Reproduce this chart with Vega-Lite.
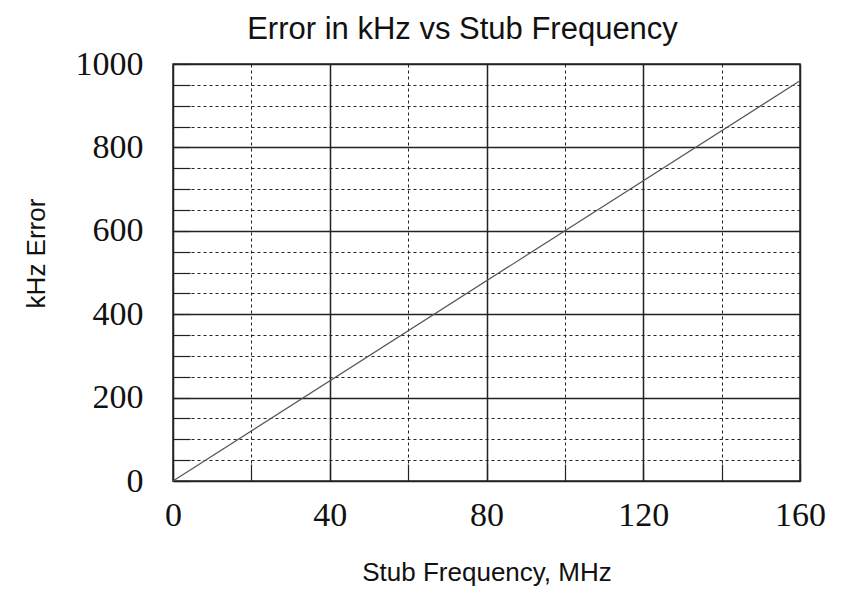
{
  "$schema": "https://vega.github.io/schema/vega-lite/v6.json",
  "autosize": "none",
  "width": 627,
  "height": 417,
  "padding": {"left": 173, "top": 64, "right": 49, "bottom": 115},
  "background": "white",
  "title": {
    "text": "Error in kHz vs Stub Frequency",
    "font": "Liberation Sans",
    "fontSize": 31,
    "fontWeight": "normal",
    "color": "#111",
    "anchor": "middle",
    "frame": "group",
    "dx": -24,
    "baseline": "alphabetic",
    "offset": -23
  },
  "config": {
    "view": {"stroke": "#222", "strokeWidth": 1.5},
    "axis": {"domain": false}
  },
  "data": {"values": [
    {"freq": 0, "err": 0},
    {"freq": 160, "err": 960}
  ]},
  "mark": {"type": "line", "color": "#555", "strokeWidth": 1.2},
  "encoding": {
    "x": {
      "field": "freq", "type": "quantitative",
      "scale": {"domain": [0, 160], "nice": false},
      "axis": {
        "values": [0, 20, 40, 60, 80, 100, 120, 140, 160],
        "labelExpr": "datum.value % 40 === 0 ? datum.label : ''",
        "labelFont": "Liberation Serif", "labelFontSize": 34, "labelColor": "#111",
        "labelPadding": 34, "labelFlush": false, "labelOverlap": false,
        "tickSize": -17, "tickColor": "#222", "tickWidth": 1.2,
        "grid": true, "gridColor": "#222", "gridOpacity": 1,
        "gridWidth": {"condition": {"test": "datum.value % 40 === 0", "value": 1.5}, "value": 1},
        "gridDash": {"condition": {"test": "datum.value % 40 === 0", "value": []}, "value": [3, 3]},
        "title": "Stub Frequency, MHz",
        "titleFont": "Liberation Sans", "titleFontSize": 26, "titleFontWeight": "normal",
        "titleColor": "#111", "titlePadding": 27
      }
    },
    "y": {
      "field": "err", "type": "quantitative",
      "scale": {"domain": [0, 1000], "nice": false},
      "axis": {
        "values": [0, 50, 100, 150, 200, 250, 300, 350, 400, 450, 500, 550, 600, 650, 700, 750, 800, 850, 900, 950, 1000],
        "labelExpr": "datum.value % 200 === 0 ? datum.label : ''",
        "format": "d",
        "labelFont": "Liberation Serif", "labelFontSize": 34, "labelColor": "#111",
        "labelPadding": 47, "labelFlush": false, "labelOverlap": false,
        "tickSize": -17, "tickColor": "#222", "tickWidth": 1.2,
        "grid": true, "gridColor": "#222", "gridOpacity": 1,
        "gridWidth": {"condition": {"test": "datum.value % 200 === 0", "value": 1.5}, "value": 1},
        "gridDash": {"condition": {"test": "datum.value % 200 === 0", "value": []}, "value": [3, 3]},
        "title": "kHz Error",
        "titleFont": "Liberation Sans", "titleFontSize": 26, "titleFontWeight": "normal",
        "titleColor": "#111", "titlePadding": 26, "titleY": 189
      }
    }
  }
}
